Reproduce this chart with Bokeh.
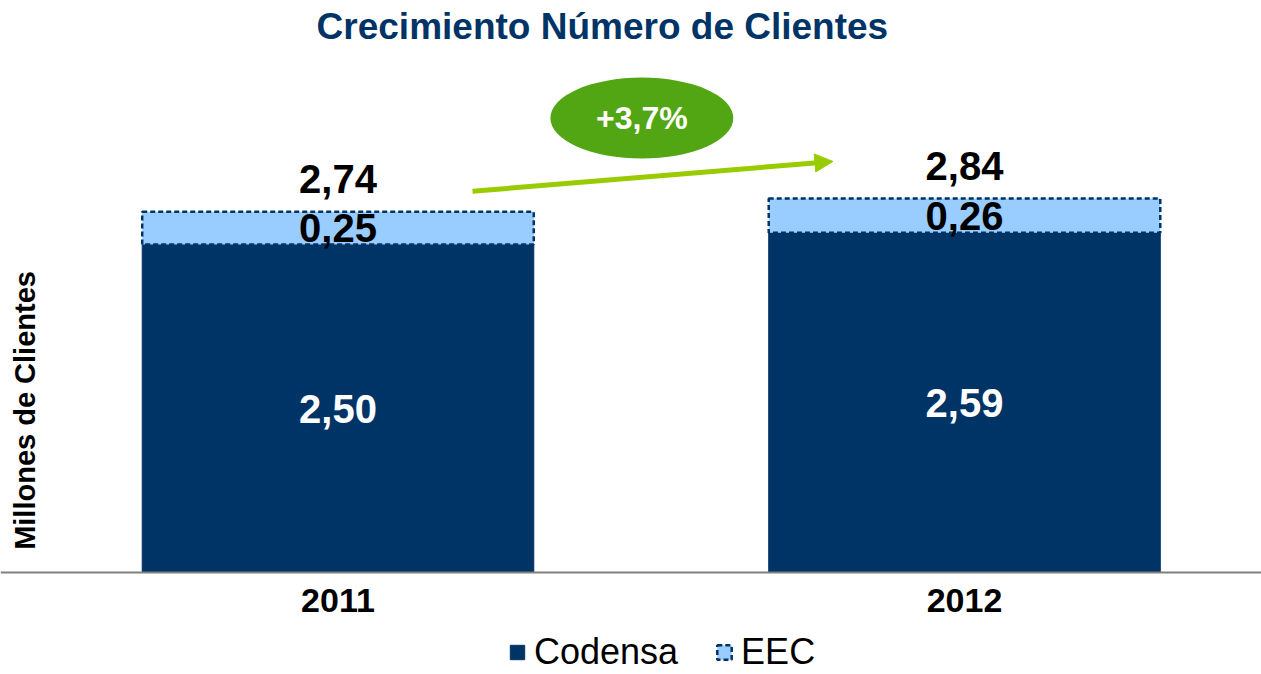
from bokeh.plotting import figure
from bokeh.models import (ColumnDataSource, Range1d, FixedTicker, Label, Arrow,
                          NormalHead, Legend, LegendItem)
from bokeh.core.properties import value
from bokeh.embed import file_html
from bokeh.resources import INLINE
import math

# ---------------- data ----------------
years = ["2011", "2012"]
codensa = [2.50, 2.59]
eec = [0.25, 0.26]
totals = [2.74, 2.84]
growth_label = "+3,7%"
title_text = "Crecimiento Número de Clientes"
y_label = "Millones de Clientes"
series_names = ["Codensa", "EEC"]

# ---------------- styles ----------------
NAVY = "#003366"
LIGHT = "#99CCFF"
GREEN = "#52A614"
LIME = "#99CC00"
FONT = value("Liberation Sans")


def fmt(v):
    return f"{v:.2f}".replace(".", ",")


xs = list(range(len(years)))
stack_top = [c + e for c, e in zip(codensa, eec)]

src = ColumnDataSource(dict(
    x=xs,
    codensa=codensa,
    stack_top=stack_top,
    c_lbl=[fmt(v) for v in codensa],
    c_y=[v / 2 for v in codensa],
    e_lbl=[fmt(v) for v in eec],
    e_y=[c + e / 2 for c, e in zip(codensa, eec)],
    t_lbl=[fmt(v) for v in totals],
    t_y=[t + 0.25 for t in stack_top],
))

W, H = 1261, 674
PX_X = 626.5   # pixels per category step
PX_Y = 131.2   # pixels per million
x0 = -337.5 / PX_X
y_top = 572 / PX_Y

p = figure(width=W, height=H, output_backend="svg", toolbar_location=None,
           x_range=Range1d(x0, x0 + W / PX_X),
           y_range=Range1d(y_top - H / PX_Y, y_top),
           y_axis_location=None, min_border=0)
p.outline_line_color = None
p.xgrid.visible = False
p.ygrid.visible = False
p.background_fill_color = "white"

BW = 0.625
r_c = p.vbar(x="x", top="codensa", bottom=0, width=BW, source=src,
             fill_color=NAVY, line_color=NAVY, line_width=1)
r_e = p.vbar(x="x", top="stack_top", bottom="codensa", width=BW, source=src,
             fill_color=LIGHT, line_color=NAVY, line_width=2.5, line_dash="5 3")

# x axis at zero
ax = p.xaxis[0]
ax.fixed_location = 0
ax.ticker = FixedTicker(ticks=xs)
ax.major_label_overrides = {i: y for i, y in zip(xs, years)}
ax.minor_tick_line_color = None
ax.major_tick_line_color = None
ax.major_tick_out = 0
ax.axis_line_color = "#808080"
ax.axis_line_width = 2
ax.major_label_standoff = 16
ax.major_label_text_font = "Liberation Sans"
ax.major_label_text_font_style = "bold"
ax.major_label_text_font_size = "34px"
ax.major_label_text_color = "black"

common = dict(source=src, text_font=FONT, text_font_style="bold",
              text_font_size="40px", text_align="center", text_baseline="middle")
p.text(x="x", y="c_y", text="c_lbl", text_color="white", **common)
p.text(x="x", y="e_y", text="e_lbl", text_color="black", **common)
p.text(x="x", y="t_y", text="t_lbl", text_color="black", **common)

# growth annotation
p.add_layout(Arrow(end=NormalHead(size=18, fill_color=LIME, line_color=LIME),
                   x_start=0.2147, y_start=2.906, x_end=0.79, y_end=3.133,
                   line_color=LIME, line_width=5))
p.ellipse(x=[0.485], y=[3.464], width=0.292, height=0.617,
          fill_color=GREEN, line_color=None)
p.add_layout(Label(x=0.485, y=3.464, text=growth_label, text_color="white",
                   text_font="Liberation Sans", text_font_style="bold",
                   text_font_size="32px", text_align="center",
                   text_baseline="middle"))

# title
p.add_layout(Label(x=0.422, y=4.165, text=title_text, text_color=NAVY,
                   text_font="Liberation Sans", text_font_style="bold",
                   text_font_size="37px", text_align="center",
                   text_baseline="middle"))

# y label
p.add_layout(Label(x=-0.5, y=1.235, text=y_label, text_color="black",
                   text_font="Liberation Sans", text_font_style="bold",
                   text_font_size="29px", text_align="center",
                   text_baseline="middle", angle=math.pi / 2))

legend = Legend(items=[LegendItem(label=series_names[0], renderers=[r_c]),
                       LegendItem(label=series_names[1], renderers=[r_e])],
                orientation="horizontal", location=(508, 1),
                label_text_font="Liberation Sans", label_text_font_size="36px",
                label_text_color="black", glyph_width=18, glyph_height=18,
                label_standoff=8, spacing=37, padding=0, margin=0,
                border_line_color=None, background_fill_alpha=0)
p.add_layout(legend)

open("out.html", "w").write(file_html(p, INLINE))
